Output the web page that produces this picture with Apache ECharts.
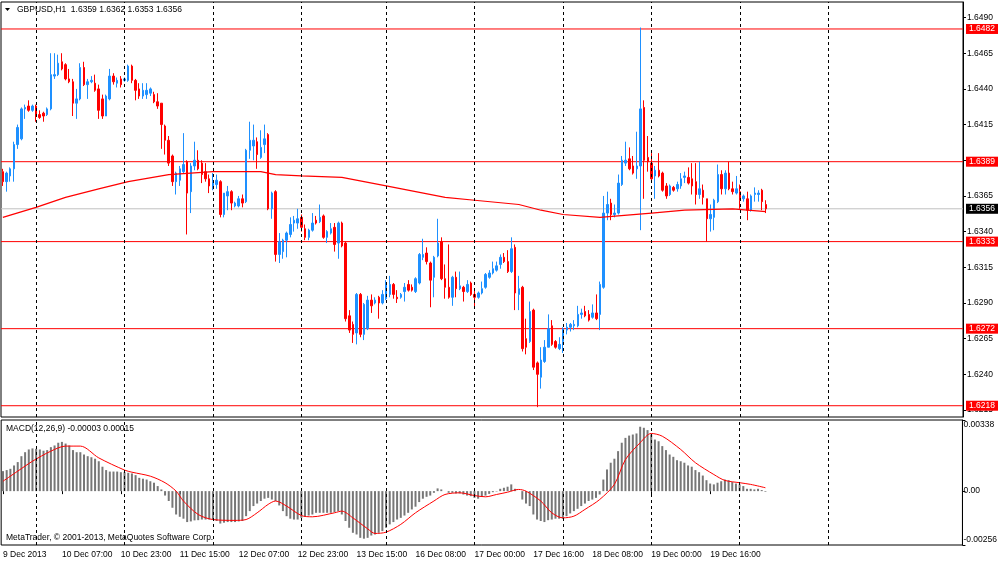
<!DOCTYPE html>
<html><head><meta charset="utf-8">
<script src="https://cdn.jsdelivr.net/npm/echarts@6/dist/echarts.min.js"></script>
<style>html,body{margin:0;padding:0;background:#fff}#c{width:1000px;height:562px}</style>
</head><body><div id="c"></div>
<script>
// ---- OHLC data (GBPUSD H1, 9 Dec 15:00 .. 20 Dec 07:00) ----
const opens = [
1.6382,1.6375,1.6379,1.6384,1.6401,1.6405,1.6426,1.6428,1.6425,1.6428,
1.6422,1.6423,1.6422,1.6426,1.6449,1.6450,1.6459,1.6457,1.6447,1.6445,
1.6430,1.6433,1.6455,1.6443,1.6445,1.6444,1.6440,1.6433,1.6421,1.6433,
1.6449,1.6444,1.6447,1.6446,1.6446,1.6456,1.6446,1.6440,1.6435,1.6436,
1.6437,1.6436,1.6431,1.6430,1.6414,1.6404,1.6393,1.6375,1.6376,1.6382,
1.6389,1.6368,1.6386,1.6390,1.6388,1.6382,1.6377,1.6370,1.6373,1.6375,
1.6352,1.6365,1.6368,1.6358,1.6358,1.6363,1.6361,1.6397,1.6400,1.6403,
1.6392,1.6401,1.6408,1.6356,1.6368,1.6324,1.6326,1.6334,1.6338,1.6346,
1.6346,1.6350,1.6342,1.6336,1.6341,1.6348,1.6347,1.6351,1.6336,1.6339,
1.6343,1.6332,1.6346,1.6332,1.6281,1.6275,1.6269,1.6296,1.6268,1.6272,
1.6292,1.6290,1.6294,1.6290,1.6293,1.6296,1.6303,1.6294,1.6294,1.6298,
1.6303,1.6301,1.6298,1.6304,1.6322,1.6325,1.6318,1.6308,1.6323,1.6333,
1.6307,1.6301,1.6294,1.6308,1.6300,1.6301,1.6298,1.6304,1.6296,1.6294,
1.6297,1.6301,1.6308,1.6311,1.6313,1.6317,1.6322,1.6319,1.6312,1.6329,
1.6296,1.6301,1.6265,1.6263,1.6285,1.6248,1.6238,1.6249,1.6259,1.6274,
1.6263,1.6258,1.6263,1.6271,1.6273,1.6274,1.6274,1.6282,1.6284,1.6282,
1.6280,1.6283,1.6282,1.6301,1.6353,1.6360,1.6352,1.6353,1.6373,1.6388,
1.6391,1.6386,1.6384,1.6386,1.6427,1.6392,1.6388,1.6379,1.6383,1.6381,
1.6372,1.6366,1.6371,1.6370,1.6372,1.6378,1.6378,1.6377,1.6375,1.6366,
1.6369,1.6363,1.6349,1.6350,1.6361,1.6380,1.6370,1.6381,1.6370,1.6367,
1.6368,1.6363,1.6363,1.6355,1.6366,1.6366,1.6369,1.6359];
const closes = [
1.6375,1.6381,1.6384,1.6401,1.6413,1.6426,1.6427,1.6425,1.6428,1.6421,
1.6420,1.6421,1.6426,1.6450,1.6450,1.6458,1.6454,1.6447,1.6445,1.6430,
1.6433,1.6455,1.6443,1.6445,1.6446,1.6439,1.6425,1.6421,1.6435,1.6449,
1.6445,1.6446,1.6443,1.6447,1.6456,1.6446,1.6439,1.6435,1.6439,1.6439,
1.6440,1.6431,1.6428,1.6415,1.6404,1.6388,1.6375,1.6381,1.6384,1.6387,
1.6367,1.6386,1.6390,1.6384,1.6380,1.6377,1.6372,1.6375,1.6376,1.6352,
1.6367,1.6368,1.6360,1.6360,1.6363,1.6360,1.6397,1.6404,1.6404,1.6394,
1.6399,1.6405,1.6356,1.6367,1.6324,1.6333,1.6334,1.6339,1.6345,1.6348,
1.6349,1.6343,1.6336,1.6341,1.6346,1.6346,1.6350,1.6336,1.6340,1.6342,
1.6331,1.6346,1.6330,1.6279,1.6271,1.6268,1.6296,1.6268,1.6289,1.6292,
1.6288,1.6292,1.6290,1.6296,1.6304,1.6303,1.6296,1.6293,1.6296,1.6301,
1.6299,1.6299,1.6307,1.6324,1.6324,1.6319,1.6306,1.6322,1.6332,1.6307,
1.6301,1.6294,1.6308,1.6300,1.6302,1.6298,1.6303,1.6296,1.6294,1.6297,
1.6300,1.6310,1.6311,1.6314,1.6316,1.6322,1.6319,1.6312,1.6328,1.6297,
1.6300,1.6258,1.6259,1.6284,1.6245,1.6240,1.6250,1.6259,1.6272,1.6261,
1.6259,1.6261,1.6272,1.6273,1.6275,1.6275,1.6282,1.6283,1.6281,1.6278,
1.6283,1.6279,1.6303,1.6353,1.6359,1.6352,1.6353,1.6374,1.6390,1.6390,
1.6384,1.6381,1.6386,1.6426,1.6390,1.6389,1.6377,1.6383,1.6379,1.6369,
1.6365,1.6372,1.6369,1.6373,1.6377,1.6379,1.6374,1.6372,1.6366,1.6370,
1.6364,1.6349,1.6352,1.6362,1.6380,1.6370,1.6381,1.6370,1.6368,1.6370,
1.6362,1.6365,1.6355,1.6365,1.6367,1.6367,1.6361,1.6356];
const lows = [
1.6372,1.6368,1.6375,1.6375,1.6398,1.6404,1.6419,1.6424,1.6424,1.6417,
1.6419,1.6417,1.6421,1.6425,1.6447,1.6449,1.6453,1.6446,1.6444,1.6421,
1.6419,1.6432,1.6442,1.6433,1.6444,1.6438,1.6419,1.6419,1.6421,1.6432,
1.6443,1.6441,1.6441,1.6445,1.6445,1.6444,1.6432,1.6433,1.6433,1.6433,
1.6435,1.6430,1.6426,1.6398,1.6394,1.6386,1.6372,1.6366,1.6372,1.6381,
1.6338,1.6353,1.6383,1.6383,1.6374,1.6375,1.6367,1.6369,1.6370,1.6350,
1.6350,1.6355,1.6355,1.6357,1.6357,1.6357,1.6360,1.6391,1.6390,1.6384,
1.6391,1.6395,1.6355,1.6349,1.6319,1.6318,1.6321,1.6322,1.6336,1.6340,
1.6342,1.6340,1.6334,1.6334,1.6340,1.6345,1.6346,1.6335,1.6332,1.6338,
1.6326,1.6321,1.6329,1.6277,1.6269,1.6262,1.6261,1.6266,1.6264,1.6271,
1.6283,1.6289,1.6279,1.6289,1.6292,1.6294,1.6293,1.6290,1.6293,1.6291,
1.6298,1.6298,1.6297,1.6303,1.6320,1.6317,1.6287,1.6294,1.6322,1.6306,
1.6293,1.6293,1.6288,1.6294,1.6299,1.6291,1.6297,1.6295,1.6287,1.6293,
1.6296,1.6300,1.6307,1.6310,1.6312,1.6314,1.6318,1.6311,1.6311,1.6285,
1.6285,1.6256,1.6254,1.6262,1.6243,1.6217,1.6230,1.6248,1.6259,1.6260,
1.6258,1.6257,1.6255,1.6268,1.6270,1.6271,1.6273,1.6279,1.6280,1.6277,
1.6279,1.6278,1.6271,1.6300,1.6348,1.6348,1.6350,1.6352,1.6372,1.6386,
1.6383,1.6380,1.6377,1.6341,1.6363,1.6382,1.6376,1.6363,1.6378,1.6368,
1.6363,1.6365,1.6368,1.6368,1.6370,1.6374,1.6373,1.6366,1.6359,1.6363,
1.6359,1.6333,1.6340,1.6341,1.6360,1.6366,1.6366,1.6369,1.6366,1.6366,
1.6356,1.6361,1.6348,1.6354,1.6361,1.6361,1.6355,1.6353];
const highs = [
1.6384,1.6382,1.6385,1.6403,1.6415,1.6427,1.6429,1.6432,1.6429,1.6429,
1.6425,1.6424,1.6427,1.6465,1.6465,1.6464,1.6465,1.6458,1.6454,1.6447,
1.6440,1.6458,1.6459,1.6447,1.6449,1.6450,1.6443,1.6436,1.6436,1.6454,
1.6451,1.6448,1.6449,1.6448,1.6457,1.6457,1.6447,1.6444,1.6444,1.6444,
1.6441,1.6438,1.6437,1.6430,1.6415,1.6407,1.6394,1.6382,1.6386,1.6409,
1.6390,1.6388,1.6403,1.6397,1.6390,1.6388,1.6380,1.6381,1.6380,1.6376,
1.6367,1.6372,1.6369,1.6361,1.6365,1.6366,1.6398,1.6417,1.6415,1.6406,
1.6411,1.6415,1.6409,1.6368,1.6369,1.6339,1.6335,1.6340,1.6350,1.6351,
1.6356,1.6352,1.6345,1.6342,1.6353,1.6351,1.6359,1.6352,1.6341,1.6346,
1.6346,1.6347,1.6347,1.6333,1.6285,1.6277,1.6297,1.6297,1.6290,1.6295,
1.6296,1.6294,1.6295,1.6299,1.6306,1.6309,1.6304,1.6299,1.6297,1.6304,
1.6306,1.6303,1.6308,1.6325,1.6335,1.6329,1.6319,1.6323,1.6349,1.6336,
1.6317,1.6331,1.6309,1.6312,1.6312,1.6302,1.6306,1.6305,1.6299,1.6298,
1.6305,1.6311,1.6313,1.6319,1.6319,1.6324,1.6325,1.6327,1.6336,1.6331,
1.6309,1.6302,1.6279,1.6291,1.6286,1.6249,1.6259,1.6264,1.6282,1.6278,
1.6264,1.6266,1.6273,1.6276,1.6276,1.6278,1.6288,1.6286,1.6288,1.6285,
1.6289,1.6296,1.6305,1.6365,1.6368,1.6363,1.6359,1.6380,1.6393,1.6403,
1.6399,1.6393,1.6410,1.6483,1.6432,1.6407,1.6395,1.6386,1.6395,1.6382,
1.6374,1.6373,1.6372,1.6375,1.6381,1.6382,1.6385,1.6388,1.6388,1.6389,
1.6373,1.6363,1.6359,1.6363,1.6387,1.6383,1.6383,1.6389,1.6375,1.6379,
1.6373,1.6366,1.6368,1.6366,1.6371,1.6369,1.6370,1.6362];

// ---- moving average (read at selected bars) ----
const maIdx = [0,9,17,26,34,45,57,70,74,81,92,98,104,112,120,128,140,146,152,162,176,185,198,207];
const maVal = [1.6350,1.6357,1.6364,1.6370,1.6375,1.6380,1.6382,1.6382,1.6380,1.6379,1.6378,1.6375,1.6372,1.6368,1.6364,1.6362,1.6359,1.6355,1.6352,1.6350,1.6353,1.6355,1.6356,1.6354];

// ---- MACD(12,26,9) main histogram ----
const macdMain = [
0.00095,0.00100,0.00106,0.00122,0.00138,0.00166,0.00185,0.00198,0.00203,0.00201,
0.00198,0.00192,0.00195,0.00209,0.00217,0.00230,0.00234,0.00226,0.00217,0.00195,
0.00185,0.00185,0.00174,0.00166,0.00161,0.00154,0.00142,0.00116,0.00100,0.00093,
0.00093,0.00093,0.00090,0.00090,0.00087,0.00084,0.00076,0.00063,0.00059,0.00055,
0.00047,0.00040,0.00024,0.00008,-0.00021,-0.00047,-0.00079,-0.00111,-0.00122,-0.00131,
-0.00147,-0.00144,-0.00139,-0.00138,-0.00135,-0.00135,-0.00135,-0.00135,-0.00142,-0.00154,
-0.00150,-0.00147,-0.00147,-0.00147,-0.00144,-0.00142,-0.00119,-0.00095,-0.00071,-0.00059,
-0.00047,-0.00036,-0.00032,-0.00040,-0.00047,-0.00068,-0.00095,-0.00119,-0.00131,-0.00135,
-0.00135,-0.00127,-0.00122,-0.00116,-0.00111,-0.00103,-0.00103,-0.00103,-0.00103,-0.00103,
-0.00100,-0.00095,-0.00111,-0.00142,-0.00174,-0.00198,-0.00206,-0.00222,-0.00226,-0.00222,
-0.00211,-0.00206,-0.00198,-0.00190,-0.00174,-0.00158,-0.00147,-0.00135,-0.00127,-0.00116,
-0.00103,-0.00087,-0.00074,-0.00052,-0.00036,-0.00027,-0.00021,-0.00008,0.00013,0.00008,
0.00000,-0.00008,-0.00008,-0.00011,-0.00011,-0.00016,-0.00021,-0.00024,-0.00032,-0.00036,
-0.00028,-0.00021,-0.00013,-0.00005,-0.00002,0.00011,0.00016,0.00021,0.00032,0.00011,
0.00000,-0.00040,-0.00059,-0.00071,-0.00111,-0.00135,-0.00142,-0.00147,-0.00138,-0.00135,
-0.00131,-0.00131,-0.00131,-0.00119,-0.00106,-0.00095,-0.00084,-0.00071,-0.00059,-0.00047,
-0.00040,-0.00032,-0.00016,0.00055,0.00103,0.00135,0.00154,0.00190,0.00230,0.00253,
0.00264,0.00269,0.00274,0.00306,0.00301,0.00290,0.00269,0.00245,0.00237,0.00214,
0.00195,0.00174,0.00163,0.00147,0.00142,0.00135,0.00122,0.00116,0.00100,0.00090,
0.00074,0.00052,0.00036,0.00032,0.00040,0.00047,0.00055,0.00052,0.00043,0.00036,
0.00032,0.00024,0.00011,0.00011,0.00008,0.00011,0.00005,-0.00003];
// ---- MACD signal (read at selected bars) ----
const sigIdx = [0,4,8,13,17,21,26,33,35,40,44,47,49,53,57,63,66,69,72,74,77,81,84,90,92,95,99,101,104,108,112,117,120,124,128,131,134,137,140,142,146,149,152,155,158,162,166,169,173,176,179,184,188,193,196,200,203,207];
const sigVal = [0.00047,0.00095,0.00142,0.00190,0.00214,0.00214,0.00158,0.00100,0.00090,0.00071,0.00040,0.00000,-0.00047,-0.00111,-0.00135,-0.00139,-0.00135,-0.00103,-0.00063,-0.00047,-0.00071,-0.00116,-0.00122,-0.00103,-0.00095,-0.00127,-0.00179,-0.00201,-0.00195,-0.00158,-0.00103,-0.00047,-0.00016,-0.00008,-0.00021,-0.00027,-0.00016,-0.00005,0.00008,0.00000,-0.00047,-0.00103,-0.00127,-0.00119,-0.00087,-0.00040,0.00032,0.00150,0.00230,0.00274,0.00261,0.00198,0.00135,0.00079,0.00051,0.00040,0.00032,0.00016];

// ---- levels and axis ticks ----
const redLevels = [1.6482, 1.6389, 1.6333, 1.6272, 1.6218];
const bidLevel = 1.6356;
const priceTicks = [1.6215,1.6240,1.6265,1.6290,1.6315,1.6340,1.6365,1.6390,1.6415,1.6440,1.6465,1.6490];
const macdTicks = [-0.00256, 0, 0.00338];
const separatorIdx = [9,33,57,81,104,128,152,176,200,224];

// ---- categories (hourly bars, weekend skipped) plus empty future slots ----
const N = 261;
const cats = [];
(function(){ let d = 9, h = 15;
  for (let i = 0; i < N; i++) {
    cats.push(i === 0 ? '9 Dec 2013' : d + ' Dec ' + String(h).padStart(2,'0') + ':00');
    h++;
    if (d === 13 && h === 23) { d = 16; h = 0; }
    else if (h === 24) { h = 0; d++; }
  }
})();
const nBars = opens.length;
const candles = opens.map((o,i)=>[o, closes[i], lows[i], highs[i]]);
const maLine = new Array(nBars).fill(null); maIdx.forEach((k,j)=>{ maLine[k] = maVal[j]; });
const sigLine = new Array(nBars).fill(null); sigIdx.forEach((k,j)=>{ sigLine[k] = sigVal[j]; });
const emptyLine = new Array(nBars).fill(null);
const lblInt = (idx) => idx % 16 === 0 && idx < nBars;

const FONT = 'Liberation Sans, Arial, sans-serif';
const sepData = separatorIdx.map(k => ({xAxis: cats[k]}));
const sepHelper = (xi, yi) => ({
  type:'line', xAxisIndex:xi, yAxisIndex:yi, data:emptyLine, symbol:'none', silent:true, z:1,
  lineStyle:{width:0}, itemStyle:{color:'#000'},
  markLine:{silent:true, symbol:['none','none'], animation:false, lineStyle:{color:'#000', type:[3,3], width:1}, label:{show:false}, data:sepData}
});
// horizontal price levels drawn on a hidden 0..1 value x axis spanning the whole pane
const levelSeries = (v, lineColor, boxColor) => ({
  type:'line', xAxisIndex:2, yAxisIndex:0, data:[[0, v], [1, v]], symbol:'none', silent:true, z:1,
  lineStyle:{color:lineColor, width:1, type:'solid'}, itemStyle:{color:lineColor},
  endLabel:{show:true, distance:3, formatter:()=>v.toFixed(4), backgroundColor:boxColor, color:'#fff', fontSize:8.5, fontFamily:FONT, padding:[1,3,0,3]}
});

const chart = echarts.init(document.getElementById('c'), null, {renderer:'canvas'});
chart.setOption({
  animation:false,
  backgroundColor:'#fff',
  textStyle:{fontFamily:FONT},
  grid:[
    {left:1, right:37, top:2, height:415, show:true, borderColor:'#000', borderWidth:1, backgroundColor:'transparent'},
    {left:1, right:37, top:420, height:125, show:true, borderColor:'#000', borderWidth:1, backgroundColor:'transparent'}
  ],
  xAxis:[
    {type:'category', gridIndex:0, data:cats, boundaryGap:true, axisLine:{show:false}, axisTick:{show:false}, axisLabel:{show:false}, splitLine:{show:false}},
    {type:'category', gridIndex:1, data:cats, boundaryGap:true, axisLine:{show:false},
     axisTick:{show:true, interval:lblInt, alignWithLabel:true, length:3, lineStyle:{color:'#000'}},
     axisLabel:{interval:lblInt, align:'left', margin:5, fontSize:8.5, color:'#000', fontFamily:FONT}, splitLine:{show:false}},
    {type:'value', gridIndex:0, min:0, max:1, show:false, axisLine:{onZero:false}}
  ],
  yAxis:[
    {type:'value', gridIndex:0, position:'right', min:1.62101, max:1.65009,
     axisLine:{show:true, onZero:false, lineStyle:{color:'#000'}},
     axisTick:{show:true, length:3, customValues:priceTicks, lineStyle:{color:'#000'}},
     axisLabel:{customValues:priceTicks, formatter:v=>v.toFixed(4), fontSize:8.5, color:'#000', margin:4, fontFamily:FONT},
     splitLine:{show:false}},
    {type:'value', gridIndex:1, position:'right', min:-0.00256, max:0.00338,
     axisLine:{show:true, onZero:false, lineStyle:{color:'#000'}},
     axisTick:{show:true, length:3, customValues:macdTicks, lineStyle:{color:'#000'}},
     axisLabel:{customValues:macdTicks, margin:1, fontSize:8.5, color:'#000', fontFamily:FONT,
       formatter:v=> v === 0 ? '0.00' : (v > 0 ? '{t|' + v.toFixed(5) + '}' : '{b|' + v.toFixed(5) + '}'),
       rich:{t:{padding:[10,0,0,0], fontSize:8.5, color:'#000'}, b:{padding:[0,0,10,0], fontSize:8.5, color:'#000'}}},
     splitLine:{show:false}}
  ],
  graphic:[
    {type:'polygon', shape:{points:[[5,8],[10,8],[7.5,11]]}, style:{fill:'#000'}},
    {type:'text', left:17, top:5, style:{text:'GBPUSD,H1  1.6359 1.6362 1.6353 1.6356', font:'8.5px ' + FONT, fill:'#000'}},
    {type:'text', left:6, top:424, style:{text:'MACD(12,26,9) -0.00003 0.00015', font:'8.5px ' + FONT, fill:'#000'}},
    {type:'text', left:6, top:533, style:{text:'MetaTrader, \u00A9 2001-2013, MetaQuotes Software Corp.', font:'8.5px ' + FONT, fill:'#000'}}
  ],
  series:[
    sepHelper(0, 0),
    levelSeries(bidLevel, '#C0C0C0', '#000'),
  ].concat(redLevels.map(v => levelSeries(v, '#FF0000', '#FF0000'))).concat([
    {type:'candlestick', xAxisIndex:0, yAxisIndex:0, data:candles, barWidth:2, z:2,
     itemStyle:{color:'#1E90FF', color0:'#FF0000', borderColor:'#1E90FF', borderColor0:'#FF0000', borderWidth:1}},
    {type:'line', xAxisIndex:0, yAxisIndex:0, data:maLine, connectNulls:true, symbol:'none', lineStyle:{color:'#FF0000', width:1.2}, z:3},
    sepHelper(1, 1),
    {type:'bar', xAxisIndex:1, yAxisIndex:1, data:macdMain, barWidth:2, itemStyle:{color:'#777'}},
    {type:'line', xAxisIndex:1, yAxisIndex:1, data:sigLine, connectNulls:true, smooth:0.3, symbol:'none', lineStyle:{color:'#FF0000', width:1}, z:3}
  ])
});
</script>
</body></html>
